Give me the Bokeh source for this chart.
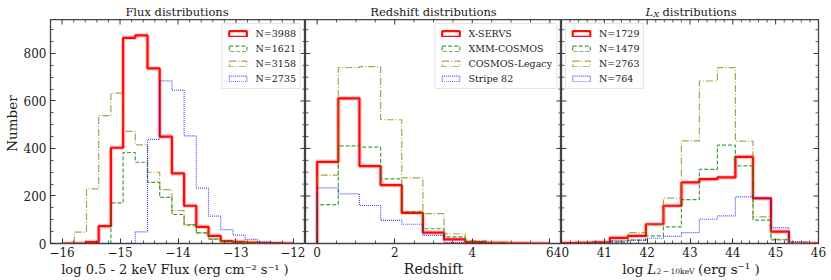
import numpy as np
from bokeh.plotting import figure
from bokeh.models import (Range1d, FixedTicker, Legend, LegendItem, ColumnDataSource)
from bokeh.core.properties import value
from bokeh.layouts import row, column
from bokeh.embed import file_html
from bokeh.resources import INLINE

# ------------------------------------------------------------------ data
# Flux panel: 19 bins between log flux -16 and -12
flux_edges = np.linspace(-16, -12, 20)
flux_xservs = [0, 0, 6, 73, 403, 866, 876, 737, 450, 295, 159, 70, 32, 10, 7, 4, 2, 1, 0]
flux_xmm = [0, 0, 0, 0, 171, 383, 342, 257, 194, 122, 77, 45, 18, 8, 4, 2, 0, 0, 0]
flux_legacy = [0, 48, 230, 538, 633, 472, 415, 300, 227, 139, 80, 45, 18, 10, 5, 3, 2, 1, 0]
flux_stripe82 = [0, 0, 0, 0, 0, 0, 49, 438, 685, 646, 453, 233, 115, 58, 35, 17, 7, 3, 1]
flux_labels = ["N=3988", "N=1621", "N=3158", "N=2735"]

# Redshift panel: 11 bins between z = 0 and 6
z_edges = np.linspace(0, 6, 12)
z_xservs = [344, 611, 326, 246, 129, 46, 17, 6, 3, 1, 0]
z_xmm = [164, 411, 406, 272, 133, 62, 28, 8, 3, 0, 0]
z_legacy = [288, 741, 745, 521, 276, 126, 41, 11, 4, 1, 0]
z_stripe82 = [234, 209, 160, 97, 81, 34, 4, 1, 0, 0, 0]
survey_names = ["X-SERVS", "XMM-COSMOS", "COSMOS-Legacy", "Stripe 82"]

# Luminosity panel
lx_edges = [39.88, 40.30, 40.71, 41.13, 41.55, 41.97, 42.38, 42.80, 43.22,
            43.64, 44.06, 44.47, 44.89, 45.31, 45.73, 46.14]
lx_xservs = [2, 3, 5, 24, 32, 81, 159, 257, 271, 278, 365, 190, 50, 0, 0]
lx_xmm = [1, 2, 3, 6, 14, 32, 70, 185, 312, 414, 327, 98, 15, 0, 0]
lx_legacy = [1, 3, 4, 8, 46, 80, 191, 432, 684, 740, 431, 112, 17, 0, 0]
lx_stripe82 = [0, 1, 2, 12, 14, 22, 30, 46, 102, 116, 196, 192, 67, 8, 1]
lx_labels = ["N=1729", "N=1479", "N=2763", "N=764"]

y_ticks = [0, 200, 400, 600, 800]
flux_ticks = [-16, -15, -14, -13, -12]
z_ticks = [0, 2, 4, 6]
lx_ticks = [40, 41, 42, 43, 44, 45, 46]

# ------------------------------------------------------------------ style / layout
FONT = "DejaVu Serif"
TXT = "#1a1a1a"
TICK_COL = "#333333"
FRAME_COL = "#444444"
YMAX = 943

TOP_H = 19            # strip holding the panel titles
FRAME_H = 224
PANEL_BOT = 17
PANEL_H = FRAME_H + PANEL_BOT
BOT_H = 17            # strip holding the x-axis titles
LEFT_W = 20           # strip holding "Number"
P1_LEFT = 28
FW1, FW2, FW3 = 257, 256, 257
P3_LEFT, P3_RIGHT = 12, 8

F1 = LEFT_W + P1_LEFT
F2 = F1 + FW1
F3 = F2 + FW2
TOTAL_W = F3 + FW3 + P3_RIGHT
C1, C2, C3 = F1 + FW1 / 2, F2 + FW2 / 2, F3 + FW3 / 2

STYLES = [
    dict(color="#ff0000", width=2.2, alpha=0.95, dash="solid", halo=True),
    dict(color="#008000", width=1.2, alpha=0.75, dash="4 2", halo=False),
    dict(color="#808000", width=1.2, alpha=0.7, dash="7 2 1 2", halo=False),
    dict(color="#0000ff", width=1.2, alpha=0.7, dash="1 1", halo=False),
]


def minor_list(lo, hi, step, majors):
    vals = np.round(np.arange(lo, hi + 1e-9, step), 6)
    return [float(v) for v in vals if not np.any(np.isclose(v, majors))]


def style_axis(ax, major, minor, standoff, overrides=None):
    ax.ticker = FixedTicker(ticks=major, minor_ticks=minor)
    ax.major_tick_in = 5
    ax.major_tick_out = 0
    ax.minor_tick_in = 3
    ax.minor_tick_out = 0
    ax.major_tick_line_color = TICK_COL
    ax.minor_tick_line_color = TICK_COL
    ax.minor_tick_line_width = 0.8
    ax.axis_line_color = None
    ax.major_label_text_font = FONT
    ax.major_label_text_font_size = "12px"
    ax.major_label_text_color = TXT
    ax.major_label_standoff = standoff
    if overrides:
        ax.major_label_overrides = overrides


def side_ticks(p, side, ticks, length, xr):
    """inward ticks on a frame side without labels"""
    n = len(ticks)
    if side == "top":
        x, y, ang = ticks, [YMAX] * n, -np.pi / 2
    elif side == "right":
        x, y, ang = [xr[1]] * n, ticks, np.pi
    else:
        x, y, ang = [xr[0]] * n, ticks, 0.0
    p.ray(x=x, y=y, length=length, length_units="screen", angle=ang,
          line_color=TICK_COL, line_width=1 if length > 3 else 0.8)


def make_panel(xr, width, left, right, xticks, xminor, ylabels, xoverrides=None, **kw):
    p = figure(width=width, height=PANEL_H, x_range=Range1d(*xr), y_range=Range1d(0, YMAX),
               output_backend="svg", toolbar_location=None,
               y_axis_location="left" if ylabels else None,
               min_border_left=left, min_border_right=right,
               min_border_top=0, min_border_bottom=PANEL_BOT, **kw)
    p.grid.visible = False
    p.outline_line_color = FRAME_COL
    p.outline_line_width = 1.3
    yminor = minor_list(0, 900, 50, y_ticks)
    style_axis(p.below[0], xticks, xminor, 3, xoverrides)
    if ylabels:
        style_axis(p.left[0], y_ticks, yminor, 4)
    else:
        side_ticks(p, "left", y_ticks, 5, xr)
        side_ticks(p, "left", yminor, 3, xr)
    side_ticks(p, "top", xticks, 5, xr)
    side_ticks(p, "top", xminor, 3, xr)
    side_ticks(p, "right", y_ticks, 5, xr)
    side_ticks(p, "right", yminor, 3, xr)
    return p


def add_hist(p, edges, counts, st):
    xs = np.repeat(np.asarray(edges, dtype=float), 2)
    ys = np.concatenate([[0], np.repeat(np.asarray(counts, dtype=float), 2), [0]])
    src = ColumnDataSource(dict(x=xs, y=ys))
    if st["halo"]:
        p.line("x", "y", source=src, line_color=st["color"], line_width=4.5, line_alpha=0.22)
    p.line("x", "y", source=src, line_color=st["color"], line_width=st["width"],
           line_alpha=st["alpha"], line_dash=st["dash"])
    # legend handle: outlined box, like matplotlib step histograms
    return p.quad(left=[np.nan], right=[np.nan], bottom=[np.nan], top=[np.nan],
                  fill_alpha=0, line_color=st["color"], line_alpha=st["alpha"],
                  line_width=st["width"], line_dash=st["dash"])


def add_legend(p, labels, handles, loc):
    lg = Legend(items=[LegendItem(label=l, renderers=[h]) for l, h in zip(labels, handles)],
                location=loc)
    lg.label_text_font = FONT
    lg.label_text_font_size = "9.5px"
    lg.label_text_color = TXT
    lg.glyph_width = 22
    lg.glyph_height = 7
    lg.label_height = 10
    lg.label_standoff = 7
    lg.spacing = 4
    lg.padding = 4
    lg.margin = 4
    lg.border_line_color = "#cccccc"
    lg.border_line_width = 1
    lg.background_fill_alpha = 0.85
    p.add_layout(lg)


def make_strip(w, h, **kw):
    s = figure(width=w, height=h, x_range=Range1d(0, w), y_range=Range1d(0, h),
               output_backend="svg", toolbar_location=None,
               x_axis_location=None, y_axis_location=None, min_border=0, **kw)
    s.grid.visible = False
    s.outline_line_color = None
    return s


def put_text(s, x, y, text, size, style="normal", align="center", baseline="alphabetic",
             angle=0.0):
    s.text(x=[x], y=[y], text=[text], text_font=value(FONT), text_font_size=value(size),
           text_font_style=style, text_align=align, text_baseline=baseline,
           text_color=TXT, angle=angle)


# ------------------------------------------------------------------ panels
flux_over = {t: str(t).replace("-", "\u2212") for t in flux_ticks}
p1 = make_panel((-16.2, -11.8), P1_LEFT + FW1, P1_LEFT, 0, flux_ticks,
                minor_list(-16.2, -11.8, 0.2, flux_ticks), True, flux_over)
h1 = [add_hist(p1, flux_edges, c, s) for c, s in
      zip([flux_xservs, flux_xmm, flux_legacy, flux_stripe82], STYLES)]
add_legend(p1, flux_labels, h1, "top_right")

p2 = make_panel((-0.3, 6.3), FW2, 0, 0, z_ticks,
                minor_list(0, 6, 0.5, z_ticks), False)
h2 = [add_hist(p2, z_edges, c, s) for c, s in
      zip([z_xservs, z_xmm, z_legacy, z_stripe82], STYLES)]
add_legend(p2, survey_names, h2, "top_right")

p3 = make_panel((40, 46), P3_LEFT + FW3 + P3_RIGHT, P3_LEFT, P3_RIGHT, lx_ticks,
                minor_list(40, 46, 0.2, lx_ticks), False, margin=(0, 0, 0, -P3_LEFT))
p3.border_fill_alpha = 0
h3 = [add_hist(p3, lx_edges, c, s) for c, s in
      zip([lx_xservs, lx_xmm, lx_legacy, lx_stripe82], STYLES)]
add_legend(p3, lx_labels, h3, "top_left")

# ------------------------------------------------------------------ text strips
top = make_strip(TOTAL_W, TOP_H)
tb = 7.7
put_text(top, C1, tb, "Flux distributions", "11.5px")
put_text(top, C2, tb, "Redshift distributions", "11.5px")
put_text(top, C3 - 44.5, tb, "L", "11.5px", style="italic", align="left")
put_text(top, C3 - 36.5, tb - 2.5, "X", "8px", style="italic", align="left")
put_text(top, C3 - 27.5, tb, "distributions", "11.5px", align="left")

left = make_strip(LEFT_W, PANEL_H)
put_text(left, 11.5, PANEL_BOT + FRAME_H / 2, "Number", "13.5px", baseline="middle",
         angle=np.pi / 2)

bot = make_strip(TOTAL_W, BOT_H)
bb = 8.5
put_text(bot, C1, bb, "log 0.5 - 2 keV Flux  (erg cm\u207b\u00b2 s\u207b\u00b9 )", "13px")
put_text(bot, C2, bb, "Redshift", "14px")
put_text(bot, C3 - 67.8, bb, "log", "13.5px", align="left")
put_text(bot, C3 - 42.8, bb, "L", "13.5px", style="italic", align="left")
put_text(bot, C3 - 33.5, bb - 2.5, "2\u2009\u2212\u200910keV", "7.5px", align="left")
put_text(bot, C3 + 8.0, bb, "(erg s\u207b\u00b9 )", "13.5px", align="left")

layout = column(top, row(left, p1, p2, p3), bot)
open("out.html", "w").write(file_html(layout, INLINE))
